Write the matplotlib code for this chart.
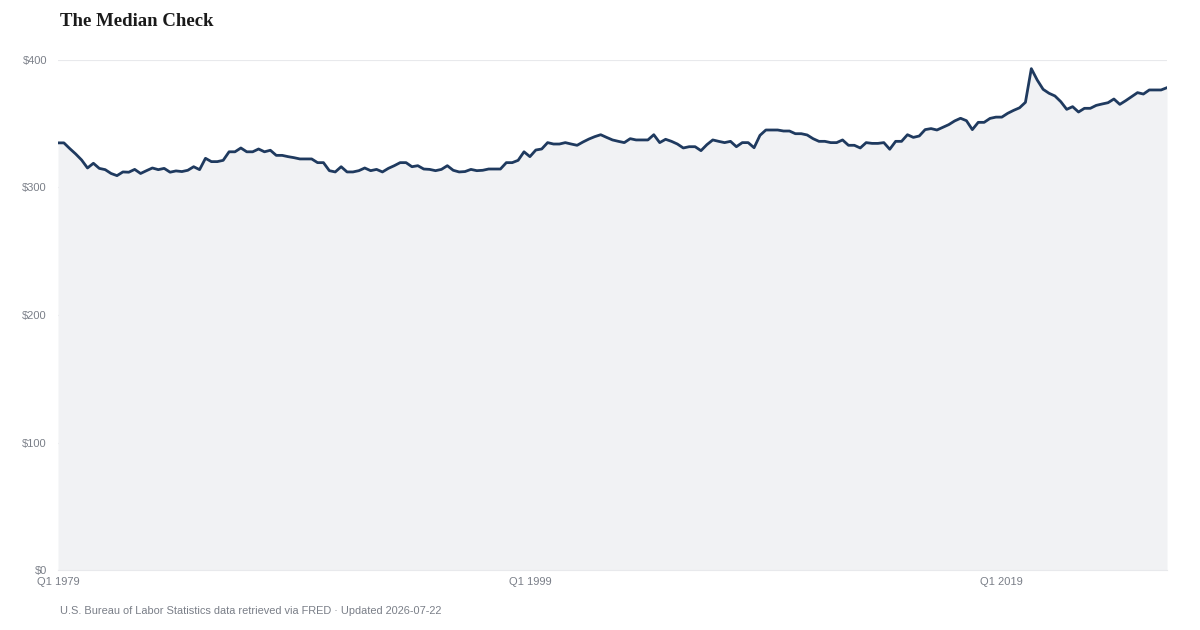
# -*- coding: utf-8 -*-

import numpy as np
import matplotlib
matplotlib.use('Agg')
import matplotlib.pyplot as plt

#-------------------------------------------------------
# Median weekly earnings, quarterly, Q1 1979 - Q1 2026
primeiro_ano = 1979
valores = [
    335, 335, 330.5, 326.3, 321.6, 315.3, 319, 315, 314, 311,
    309.3, 312.2, 312, 314.2, 311, 313.2, 315.3, 314, 315, 312,
    313, 312.5, 313.5, 316.3, 314, 322.9, 320.3, 320.3, 321.3, 328,
    328, 331, 328, 328, 330.2, 328, 329.2, 325.2, 325.2, 324.2,
    323.4, 322.4, 322.4, 322.4, 319.5, 319.5, 313.2, 312.2, 316.3, 312.2,
    312.2, 313.2, 315.3, 313.2, 314.2, 312.2, 315, 317.1, 319.5, 319.5,
    316.3, 317.1, 314.5, 314.2, 313.2, 314.2, 317.1, 313.5, 312.2, 312.5,
    314.2, 313.2, 313.5, 314.5, 314.5, 314.5, 319.5, 319.5, 321.3, 328,
    324.2, 329.4, 330.2, 335.2, 334.1, 334.1, 335.2, 334.1, 333.1, 335.7,
    338, 339.9, 341.4, 339.3, 337.3, 336.2, 335.2, 338.3, 337.3, 337.3,
    337.3, 341.4, 335.2, 337.8, 336.2, 334.1, 331, 332, 332, 328.9,
    333.6, 337.3, 336.2, 335.2, 336.2, 332, 335.2, 335.2, 331.2, 340.9,
    345.1, 345.1, 345.1, 344.3, 344.3, 342.2, 342.2, 341.2, 338.3, 336.2,
    336.2, 335.2, 335.2, 337.3, 333.1, 333.1, 331, 335.2, 334.6, 334.6,
    335.2, 330, 336.2, 336.2, 341.4, 339.3, 340.4, 345.4, 346.2, 345.1,
    347.2, 349.3, 352.2, 354.3, 352.4, 345.4, 351.1, 351.1, 354.2, 355.2,
    355.2, 358.2, 360.5, 362.5, 366.8, 393.2, 384.3, 377, 373.9, 371.8,
    367.3, 361.3, 363.4, 359.2, 362.1, 362.1, 364.4, 365.5, 366.5, 369.4,
    365.2, 368.1, 371.2, 374.4, 373.3, 376.5, 376.5, 376.5, 378.3,
]
trimestres = ['Q%d %d' % (k % 4 + 1, primeiro_ano + k // 4) for k in range(len(valores))]
yticks = [0, 100, 200, 300, 400]
xticks_pos = [0, 80, 160]

#-------------------------------------------------------
cor_linha = '#1f3a5f'
cor_area = '#f1f2f4'
cor_grade = '#e8e9ec'
cor_texto = '#7a7f88'
fonte = 'Liberation Sans'

fig = plt.figure(figsize=(12, 6.3), dpi=100)
ax = fig.add_axes([58/1200, 60/630, (1167-58)/1200, 510/630])

x = np.arange(len(valores))
ax.fill_between(x, valores, 0, color=cor_area, lw=0, zorder=1)
ax.plot(x, valores, color=cor_linha, lw=2.0, zorder=3, solid_joinstyle='round')

ax.set_xlim(0, len(valores) - 1)
ax.set_ylim(0, 400)
ax.set_yticks(yticks)
ax.set_yticklabels(['\\$%d' % v for v in yticks], family=fonte)
ax.set_xticks(xticks_pos)
ax.set_xticklabels([trimestres[i] for i in xticks_pos], family=fonte)

ax.grid(axis='y', color=cor_grade, lw=0.8, zorder=0)
ax.grid(axis='x', visible=False)
for s in ['top', 'right', 'left']:
    ax.spines[s].set_visible(False)
ax.spines['bottom'].set_color(cor_grade)
ax.spines['bottom'].set_linewidth(0.8)
ax.tick_params(axis='both', length=0, labelsize=8, labelcolor=cor_texto)
ax.tick_params(axis='y', pad=8)
ax.tick_params(axis='x', pad=5)
ax.set_axisbelow(True)

fig.text(60/1200, 1 - 21/630, 'The Median Check', fontsize=13.5, fontweight='bold',
         family='Liberation Serif', color='#1a1a1a', va='center', ha='left')
fig.text(60/1200, 1 - 611/630, 'U.S. Bureau of Labor Statistics data retrieved via FRED \u00b7 Updated 2026-07-22',
         fontsize=7.9, family=fonte, color=cor_texto, va='center', ha='left')

fig.savefig('out.png', dpi=100, facecolor='white')
